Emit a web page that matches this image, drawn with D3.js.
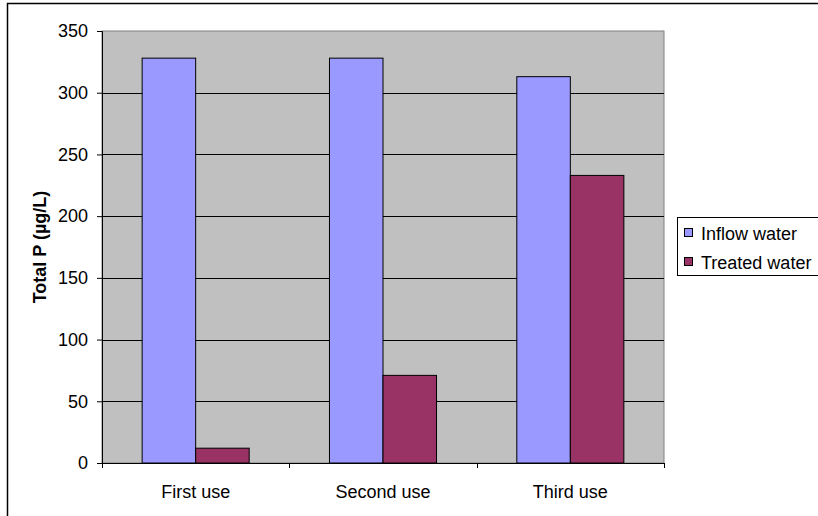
<!DOCTYPE html>
<html>
<head>
<meta charset="utf-8">
<script src="https://cdn.jsdelivr.net/npm/d3@7"></script>
<style>
  html, body { margin: 0; padding: 0; background: #ffffff; }
  svg { display: block; font-family: Arial, "Liberation Sans", sans-serif; }
</style>
</head>
<body>
<svg id="chart" width="818" height="516"></svg>
<script>
// Total phosphorus before and after treatment, per use
const categories = ["First use", "Second use", "Third use"];
const seriesNames = ["Inflow water", "Treated water"];
const inflowValues = [328, 328, 313];
const treatedValues = [12, 71, 233];
const yTicks = [0, 50, 100, 150, 200, 250, 300, 350];
const seriesColors = ["#9999ff", "#993366"];

const FONT = 18;
const svg = d3.select("#chart");

// Outer chart frame (extends past the page on the right and bottom)
svg.append("rect")
  .attr("x", 7.5).attr("y", 3.5)
  .attr("width", 830).attr("height", 530)
  .attr("fill", "#ffffff")
  .attr("stroke", "#000000").attr("stroke-width", 1.5);

const plot = { left: 102, top: 31, right: 664, bottom: 463 };

const x = d3.scaleBand()
  .domain(categories)
  .range([plot.left, plot.right])
  .paddingInner(0).paddingOuter(0);

const y = d3.scaleLinear()
  .domain([0, 350])
  .range([plot.bottom, plot.top]);

// Plot area
svg.append("rect")
  .attr("x", plot.left).attr("y", plot.top)
  .attr("width", plot.right - plot.left).attr("height", plot.bottom - plot.top)
  .attr("fill", "#c0c0c0")
  .attr("stroke", "#808080").attr("stroke-width", 1);

// Horizontal gridlines
svg.append("g")
  .selectAll("line")
  .data(yTicks.filter(d => d > 0 && d < 350))
  .join("line")
  .attr("x1", plot.left).attr("x2", plot.right)
  .attr("y1", d => Math.round(y(d)) + 0.5).attr("y2", d => Math.round(y(d)) + 0.5)
  .attr("stroke", "#000000").attr("stroke-width", 1);

// Bars: two per category, gap width 150% of a bar
const gapRatio = 1.5;
const barW = x.bandwidth() / (seriesNames.length + gapRatio);
const groups = [inflowValues, treatedValues];

groups.forEach((vals, si) => {
  svg.append("g")
    .selectAll("rect")
    .data(categories.map((c, i) => ({ c, v: vals[i] })))
    .join("rect")
    .attr("x", d => x(d.c) + barW * gapRatio / 2 + si * barW)
    .attr("y", d => y(d.v))
    .attr("width", barW)
    .attr("height", d => y(0) - y(d.v))
    .attr("fill", seriesColors[si])
    .attr("stroke", "#000000").attr("stroke-width", 1);
});

// Y axis
const yAxis = svg.append("g")
  .attr("transform", `translate(${plot.left},0)`)
  .call(d3.axisLeft(y).tickValues(yTicks).tickSize(5).tickPadding(9));
yAxis.select(".domain").attr("stroke", "#000000");
yAxis.selectAll(".tick line").attr("stroke", "#000000");
yAxis.selectAll("text").attr("font-size", FONT).attr("fill", "#000000")
  .attr("font-family", "Arial, 'Liberation Sans', sans-serif");

// X axis with tick marks at category boundaries
const xAxisG = svg.append("g").attr("transform", `translate(0,${plot.bottom})`);
xAxisG.append("line")
  .attr("x1", plot.left).attr("x2", plot.right)
  .attr("y1", 0.5).attr("y2", 0.5)
  .attr("stroke", "#000000");
xAxisG.selectAll("line.tk")
  .data(d3.range(categories.length + 1))
  .join("line").attr("class", "tk")
  .attr("x1", i => Math.round(plot.left + i * x.step()) + 0.5)
  .attr("x2", i => Math.round(plot.left + i * x.step()) + 0.5)
  .attr("y1", 0).attr("y2", 5)
  .attr("stroke", "#000000");
xAxisG.selectAll("text")
  .data(categories)
  .join("text")
  .attr("x", d => x(d) + x.bandwidth() / 2)
  .attr("y", 35)
  .attr("text-anchor", "middle")
  .attr("font-size", FONT)
  .text(d => d);

// Y axis title
svg.append("text")
  .attr("transform", `translate(46,${(plot.top + plot.bottom) / 2}) rotate(-90)`)
  .attr("text-anchor", "middle")
  .attr("font-size", FONT)
  .attr("font-weight", "bold")
  .text("Total P (µg/L)");

// Legend
const legend = svg.append("g");
legend.append("rect")
  .attr("x", 677.5).attr("y", 217.5)
  .attr("width", 160).attr("height", 58)
  .attr("fill", "#ffffff")
  .attr("stroke", "#000000").attr("stroke-width", 1);
seriesNames.forEach((name, i) => {
  const cy = 233 + i * 29;
  legend.append("rect")
    .attr("x", 684.5).attr("y", cy - 4.5)
    .attr("width", 8).attr("height", 8)
    .attr("fill", seriesColors[i])
    .attr("stroke", "#000000").attr("stroke-width", 1);
  legend.append("text")
    .attr("x", 701).attr("y", cy + 6.5)
    .attr("font-size", FONT)
    .text(name);
});
</script>
</body>
</html>
